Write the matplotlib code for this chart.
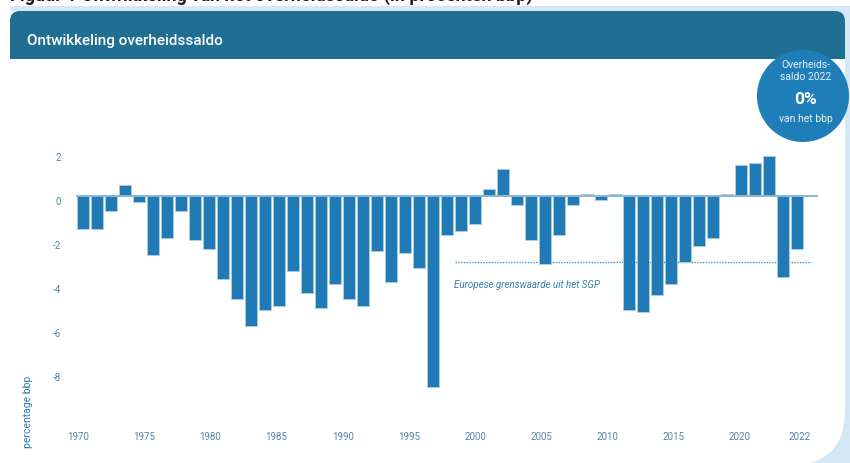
import matplotlib
matplotlib.use("Agg")
import matplotlib.pyplot as plt
from matplotlib.patches import FancyBboxPatch, Rectangle, Circle

plt.rcParams['font.family'] = ['Roboto', 'DejaVu Sans']

# overheidssaldo in % bbp, 1970-2022
years = list(range(1970, 2023))
saldo = [-1.5, -1.5, -0.7, 0.5, -0.3, -2.7, -1.9, -0.7, -2.0, -2.4,
         -3.8, -4.7, -5.9, -5.2, -5.0, -3.4, -4.4, -5.1, -4.0, -4.7,
         -5.0, -2.5, -3.9, -2.6, -3.3, -8.7, -1.8, -1.6, -1.3, 0.3,
         1.2, -0.4, -2.0, -3.1, -1.8, -0.4, 0.1, -0.2, 0.1, -5.2,
         -5.3, -4.5, -4.0, -3.0, -2.3, -1.9, 0.1, 1.4, 1.5, 1.8,
         -3.7, -2.4, 0.0]
sgp_limit = -3
sgp_label = "Europese grenswaarde uit het SGP"
yticks = [2, 0, -2, -4, -6, -8]
xtick_years = [1970, 1975, 1980, 1985, 1990, 1995, 2000, 2005, 2010, 2015, 2020, 2022]

bar_col = '#1f7ab5'
head_col = '#206f93'
light = '#d3e8f2'
tick_col = '#5286aa'

fig = plt.figure(figsize=(8.5, 4.64), dpi=100)
fig.patch.set_facecolor('white')

# background in pixel coordinates
bg = fig.add_axes([0, 0, 1, 1], zorder=0)
bg.set_xlim(0, 850)
bg.set_ylim(464, 0)
bg.axis('off')
bg.add_patch(Rectangle((10, 7), 860, 470, color=light, lw=0))
bg.add_patch(FancyBboxPatch((-200, 12), 1045, 454, boxstyle="round,pad=0,rounding_size=55",
                            fc='white', ec='none'))
bg.add_patch(FancyBboxPatch((10, 12), 835, 48, boxstyle="round,pad=0,rounding_size=10",
                            fc=head_col, ec='none'))
bg.add_patch(Rectangle((10, 36), 835, 24, color=head_col, lw=0))
# caption above the card, cut off by the top edge in the source
bg.text(10, 0.5, "Figuur 1 Ontwikkeling van het overheidssaldo (in procenten bbp)",
        fontsize=13, fontweight='bold', color='#1a1a1a', va='baseline')
bg.text(27, 41, "Ontwikkeling overheidssaldo", color='white', fontsize=11,
        fontweight='medium', va='center')

bg.add_patch(Circle((803, 97), 46, color='#1f7db8', lw=0))
bg.text(806, 65, "Overheids-", color='#e8f1f8', fontsize=7.5, ha='center', va='center')
bg.text(806, 77, "saldo 2022", color='#e8f1f8', fontsize=7.5, ha='center', va='center')
bg.text(806, 99, "0%", color='white', fontsize=12.5, fontweight='bold', ha='center', va='center')
bg.text(806, 119, "van het bbp", color='#e8f1f8', fontsize=7.5, ha='center', va='center')
bg.text(28, 412, "percentage bbp", color='#2d7db3', fontsize=7.5, rotation=90,
        ha='center', va='center')

ax = fig.add_axes([0.0894, 0.1019, 0.8729, 0.6164], zorder=1)
ax.patch.set_alpha(0)
ax.bar(years, saldo, width=0.9, color=bar_col, edgecolor='#a8cde4', linewidth=0.7, zorder=2)
ax.axhline(0, color='#8db7ce', lw=1.5, zorder=3)
ax.plot([1996.6, 2022], [sgp_limit, sgp_limit], color='#4a90c0', lw=1, ls=(0, (1, 1)), zorder=1)
ax.text(1996.5, -4.0, sgp_label, fontsize=7, style='italic', color='#3b7fae', va='center')

ax.set_xlim(1969.5, 2022.5)
ax.set_ylim(-10, 3)
for s in ax.spines.values():
    s.set_visible(False)

ax.set_yticks(yticks)
ax.set_yticklabels([str(v) for v in yticks])
for t in ax.get_yticklabels():
    t.set_va('top')

# labels in the source sit on their own evenly spaced scale, not under the bars
label_pos = [1969.64 + (y - 1970) * 0.9455 for y in xtick_years[:-1]] + [2021.2]
ax.set_xticks(label_pos)
ax.set_xticklabels([str(y) for y in xtick_years])
ax.tick_params(axis='both', length=0, labelsize=7, labelcolor=tick_col)
ax.tick_params(axis='y', pad=11)
ax.tick_params(axis='x', pad=11)

fig.savefig('out.png', dpi=100)
